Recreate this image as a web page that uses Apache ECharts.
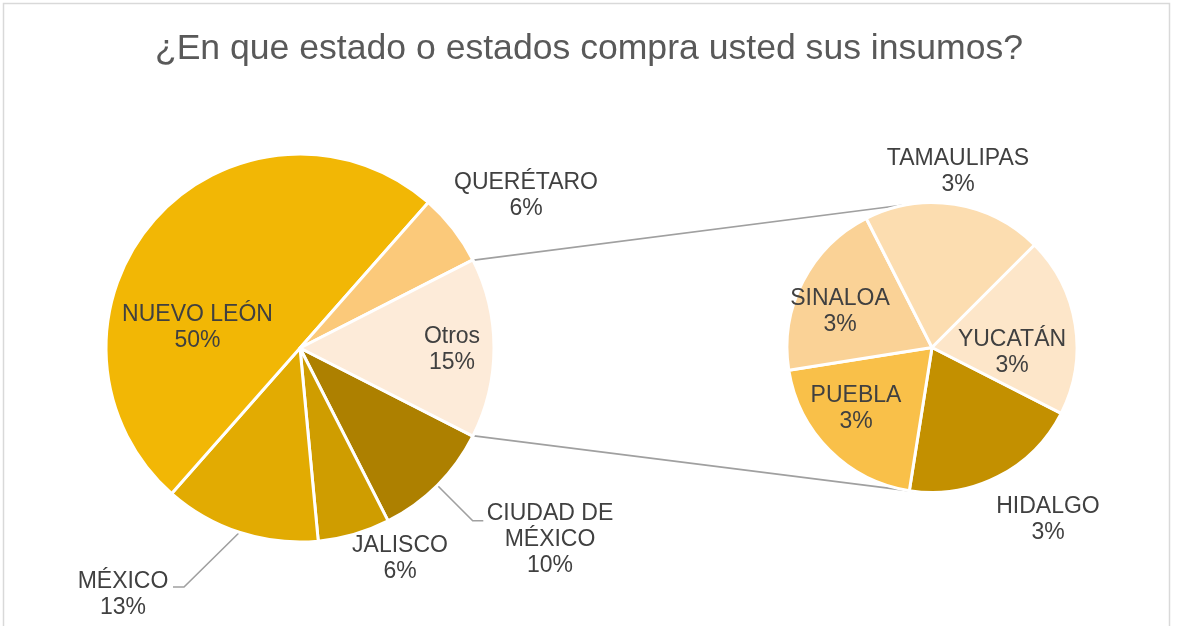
<!DOCTYPE html>
<html>
<head>
<meta charset="utf-8">
<script src="https://cdn.jsdelivr.net/npm/echarts@6/dist/echarts.min.js"></script>
<style>
  html, body { margin: 0; padding: 0; background: #fff; }
  #chart { width: 1178px; height: 626px; }
</style>
</head>
<body>
<div id="chart"></div>
<script>
// ---- data ----
const chartTitle = '¿En que estado o estados compra usted sus insumos?';

const mainNames  = ['CIUDAD DE MÉXICO', 'JALISCO', 'MÉXICO', 'NUEVO LEÓN', 'QUERÉTARO', 'Otros'];
const mainValues = [10, 6, 13, 50, 6, 15];

const otherNames  = ['HIDALGO', 'PUEBLA', 'SINALOA', 'TAMAULIPAS', 'YUCATÁN'];
const otherValues = [3, 3, 3, 3, 3];

// ---- styles ----
const mainColors  = ['#AD8000', '#CF9D00', '#E2AB02', '#F2B705', '#FBC97A', '#FDEBD9'];
const otherColors = ['#C39000', '#F9C049', '#FAD296', '#FCDDB0', '#FDE6C9'];

const FONT = 'Arial, "Liberation Sans", Helvetica, sans-serif';
const TEXT_COLOR = '#404040';
const LINE_COLOR = '#A0A0A0';

const MAIN = { cx: 300, cy: 348, r: 194 };
const SUB  = { cx: 932, cy: 347.5, r: 145 };

// label centres, as offsets from the centre of the pie that owns them
const labelOffsets = {
  'CIUDAD DE MÉXICO': [250, 191.5],
  'JALISCO':          [100, 211],
  'MÉXICO':           [-177, 246.5],
  'NUEVO LEÓN':       [-102.5, -20],
  'QUERÉTARO':        [226, -152],
  'Otros':            [152, 2],
  'HIDALGO':          [116, 172.5],
  'PUEBLA':           [-76, 61.5],
  'SINALOA':          [-92, -35.5],
  'TAMAULIPAS':       [26, -175.5],
  'YUCATÁN':          [80, 5.5]
};

// leader-line elbow and end, as offsets from the main pie centre
const leaderOffsets = {
  'MÉXICO':           [[-116, 239], [-127, 239]],
  'CIUDAD DE MÉXICO': [[172.7, 172.7], [183.3, 172.7]]
};

// ---- geometry helpers ----
const sum = a => a.reduce((s, v) => s + v, 0);
const rad = d => d * Math.PI / 180;
const polar = (c, r, deg) => [c.cx + r * Math.cos(rad(deg)), c.cy + r * Math.sin(rad(deg))];

// "Otros" is centred on the right side of the main pie
const mainTotal = sum(mainValues);
const otrosIdx = mainNames.indexOf('Otros');
const otrosHalf = mainValues[otrosIdx] / mainTotal * 360 / 2;
const otrosStart = 360 - otrosHalf;           // screen angle, clockwise from east
const mainStartAngle = otrosHalf;             // same, measured clockwise from the first slice

// screen angle (clockwise from east) of slice i's middle
function midAngle(values, i, startScreen) {
  const total = sum(values);
  let cum = 0;
  for (let k = 0; k < i; k++) cum += values[k];
  return startScreen + (cum + values[i] / 2) / total * 360;
}

function tangentPoints(p, c) {
  const dx = p[0] - c.cx, dy = p[1] - c.cy;
  const d = Math.hypot(dx, dy);
  const phi = Math.atan2(dy, dx);
  const a = Math.acos(c.r / d);
  return [phi + a, phi - a].map(t => [c.cx + c.r * Math.cos(t), c.cy + c.r * Math.sin(t)]);
}

const wrapName = n => n.replace('CIUDAD DE ', 'CIUDAD DE\n');

function makeData(names, values, colors) {
  return names.map((n, i) => ({ name: n, value: values[i], itemStyle: { color: colors[i] } }));
}

function labelLayoutFor(names, centre) {
  return params => {
    const off = labelOffsets[names[params.dataIndex]];
    return {
      x: centre.cx + off[0],
      y: centre.cy + off[1],
      align: 'center',
      verticalAlign: 'middle'
    };
  };
}

const pieBase = {
  type: 'pie',
  clockwise: true,
  avoidLabelOverlap: false,
  silent: true,
  label: {
    show: true,
    position: 'inside',
    formatter: p => wrapName(p.name) + '\n' + p.value + '%',
    fontSize: 23,
    lineHeight: 26,
    color: TEXT_COLOR,
    fontFamily: FONT
  },
  labelLine: { show: false },
  itemStyle: { borderColor: '#ffffff', borderWidth: 3 },
  emphasis: { disabled: true }
};

// ---- connector and leader lines ----
const graphics = [];
const lineStyle = { stroke: LINE_COLOR, lineWidth: 1.6, fill: null };

// pie-of-pie connectors: from the edges of "Otros" to the secondary pie
const edgeR = MAIN.r - 1;
const topStart = polar(MAIN, edgeR, otrosStart);
const botStart = polar(MAIN, edgeR, otrosStart + otrosHalf * 2);
const topEnd = tangentPoints(topStart, SUB).sort((a, b) => a[1] - b[1])[0];
const botEnd = tangentPoints(botStart, SUB).sort((a, b) => b[1] - a[1])[0];
graphics.push({ type: 'polyline', shape: { points: [topStart, topEnd] }, style: lineStyle, silent: true });
graphics.push({ type: 'polyline', shape: { points: [botStart, botEnd] }, style: lineStyle, silent: true });

// leader lines for labels placed outside the main pie
Object.keys(leaderOffsets).forEach(name => {
  const i = mainNames.indexOf(name);
  const start = polar(MAIN, edgeR, midAngle(mainValues, i, mainStartAngle));
  const pts = [start].concat(leaderOffsets[name].map(o => [MAIN.cx + o[0], MAIN.cy + o[1]]));
  graphics.push({ type: 'polyline', shape: { points: pts }, style: lineStyle, silent: true });
});

// chart frame
graphics.push({
  type: 'rect', shape: { x: 3.5, y: 3.5, width: 1166, height: 700 },
  style: { stroke: '#D9D9D9', lineWidth: 1.5, fill: null }, silent: true, z: -1
});

const option = {
  animation: false,
  backgroundColor: '#ffffff',
  title: {
    text: chartTitle,
    left: 'center',
    top: 26,
    textStyle: { fontSize: 35.6, fontWeight: 'normal', color: '#595959', fontFamily: FONT }
  },
  graphic: { elements: graphics },
  series: [
    Object.assign({}, pieBase, {
      name: 'main',
      center: [MAIN.cx, MAIN.cy],
      radius: MAIN.r,
      startAngle: 360 - mainStartAngle,
      data: makeData(mainNames, mainValues, mainColors),
      labelLayout: labelLayoutFor(mainNames, MAIN)
    }),
    Object.assign({}, pieBase, {
      name: 'otros',
      center: [SUB.cx, SUB.cy],
      radius: SUB.r,
      startAngle: 360 - otrosHalf,
      data: makeData(otherNames, otherValues, otherColors),
      labelLayout: labelLayoutFor(otherNames, SUB)
    })
  ]
};

const chart = echarts.init(document.getElementById('chart'), null, { renderer: 'canvas' });
chart.setOption(option);
</script>
</body>
</html>
